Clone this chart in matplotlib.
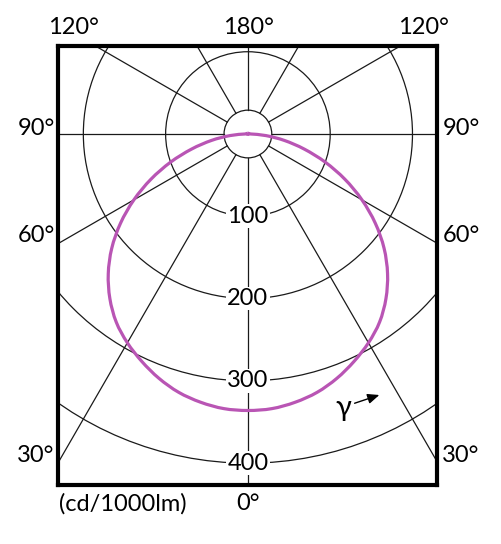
import numpy as np
import matplotlib
matplotlib.use("Agg")
import matplotlib.pyplot as plt
from matplotlib.patches import Circle, PathPatch
from matplotlib.path import Path

plt.rcParams['font.family'] = ['Lato', 'DejaVu Sans']

# luminous intensity (cd/1000lm) vs gamma angle (symmetric)
gamma_deg = [0, 5, 10, 15, 20, 25, 30, 35, 40, 45, 50, 55, 60, 65, 70, 75, 80, 85,
             90, 95, 100, 120, 150, 180]
intensity = [336, 335, 331, 325, 316, 305, 293, 279, 261, 240, 216, 189, 160, 130,
             100, 71, 45, 22, 4, 1.5, 1.2, 1.0, 1.0, 1.0]

rings = [100, 200, 300, 400]
ring_labels = ['100', '200', '300', '400']
spokes_deg = [0, 30, 60, 90, 120, 150, 180, 210, 240, 270, 300, 330]
inner_r = 29

W, H = 502, 544
fig = plt.figure(figsize=(W / 100, H / 100), dpi=100)
ax = fig.add_axes([58 / W, 1 - 485 / H, (437 - 58) / W, (485 - 46) / H])
ax.set_xlim(-230.8, 229.8)
ax.set_ylim(-426.5, 106.9)
ax.set_aspect('equal')
ax.set_xticks([])
ax.set_yticks([])
for s in ax.spines.values():
    s.set_linewidth(3.0)
    s.set_color('black')
    s.set_zorder(10)

grid_kw = dict(color='#1a1a1a', lw=0.9)

# rings and inner circle
for r in rings:
    ax.add_patch(Circle((0, 0), r, fill=False, zorder=1, **grid_kw))
ax.add_patch(Circle((0, 0), inner_r, fill=False, zorder=1, **grid_kw))

# spokes (gamma measured from straight down)
for a in spokes_deg:
    t = np.radians(a)
    ax.plot([inner_r * np.sin(t), 700 * np.sin(t)],
            [-inner_r * np.cos(t), -700 * np.cos(t)], zorder=1, **grid_kw)

# ring labels on the 0 deg axis
for r, lab in zip(rings, ring_labels):
    ax.text(0, -r, lab, ha='center', va='center', fontsize=17, zorder=5,
            bbox=dict(facecolor='white', edgecolor='none', pad=1.0))

# intensity curve, mirrored to both sides, drawn as a smooth bezier through the points
g = np.radians(np.array(gamma_deg, dtype=float))
I = np.array(intensity, dtype=float)
xr = I * np.sin(g)
yr = -I * np.cos(g)
pts = np.column_stack([np.concatenate([-xr[::-1], xr[1:]]),
                       np.concatenate([yr[::-1], yr[1:]])])
verts = [pts[0]]
codes = [Path.MOVETO]
n = len(pts)
for i in range(n - 1):
    p0 = pts[max(i - 1, 0)]
    p1 = pts[i]
    p2 = pts[i + 1]
    p3 = pts[min(i + 2, n - 1)]
    verts += [p1 + (p2 - p0) / 6, p2 - (p3 - p1) / 6, p2]
    codes += [Path.CURVE4] * 3
ax.add_patch(PathPatch(Path(verts, codes), fill=False, edgecolor='#b955b4',
                       lw=2.3, zorder=4))

# gamma arrow
def px(x, y):
    return (x - 248) / 0.8225, (134 - y) / 0.8225

ax.text(*px(343, 408), 'γ', ha='center', va='center', fontsize=21, zorder=5)
ax.annotate('', xy=px(382, 394), xytext=px(352, 404),
            arrowprops=dict(arrowstyle='-|>,head_length=0.7,head_width=0.3',
                            color='black', lw=1.0), zorder=5)

# angle labels around the frame
def ft(x, y, s, ha='center'):
    fig.text(x / W, 1 - y / H, s, ha=ha, va='center', fontsize=17)

ft(73, 27, '120°')
ft(248, 27, '180°')
ft(423, 27, '120°')
ft(36, 129, '90°')
ft(461, 129, '90°')
ft(36, 235, '60°')
ft(461, 235, '60°')
ft(36, 455, '30°')
ft(461, 455, '30°')
ft(248, 504, '0°')
ft(59, 504, '(cd/1000lm)', ha='left')

fig.savefig('out.png', dpi=100, facecolor='white')
